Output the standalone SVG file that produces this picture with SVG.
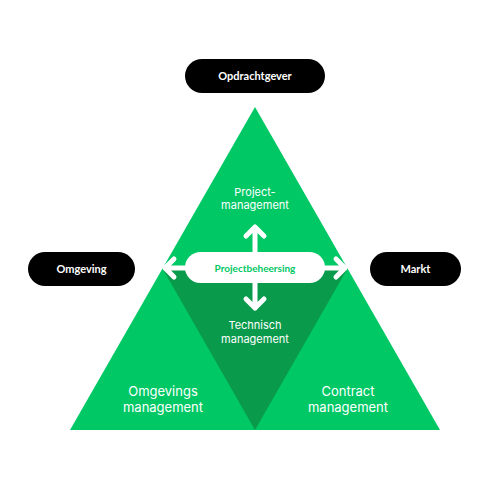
<svg xmlns="http://www.w3.org/2000/svg" width="490" height="490" viewBox="0 0 490 490">
<style>
.light{fill:#00C865}
.dark{fill:#0A9A4C}
.blk{fill:#000}
.wt{fill:#fff;font-family:Lato,"Liberation Sans",sans-serif;font-weight:700;font-size:11px;text-anchor:middle}
.lbl{fill:#fff;font-family:Inter,"Noto Sans",sans-serif;font-size:11px;text-anchor:middle}
.lbl2{fill:#fff;font-family:Inter,"Noto Sans",sans-serif;font-size:13px;text-anchor:middle}
.arr{stroke:#fff;stroke-width:5;fill:none;stroke-linecap:round;stroke-linejoin:round}
</style>
<rect width="490" height="490" fill="#fff"/>
<g id="triangle">
<polygon class="light" points="255,107 70,430 440,430"/>
<polygon class="dark" points="162.5,268.5 347.5,268.5 255,430"/>
</g>
<g id="connectors">
<path class="arr" d="M255,252 V227 M246,236 L255,227 L264,236"/>
<path class="arr" d="M255,283 V308 M246,299 L255,308 L264,299"/>
<path class="arr" d="M185,268 H165 M174,259 L165,268 L174,277"/>
<path class="arr" d="M325,268 H345 M336,259 L345,268 L336,277"/>
</g>
<g id="opdrachtgever">
<rect class="blk" x="185" y="59" width="140" height="34" rx="17"/>
<text class="wt" x="255" y="80">Opdrachtgever</text>
</g>
<g id="omgeving">
<rect class="blk" x="28" y="252" width="107" height="34" rx="17"/>
<text class="wt" x="81.5" y="273">Omgeving</text>
</g>
<g id="markt">
<rect class="blk" x="370" y="252" width="91" height="34" rx="17"/>
<text class="wt" x="415.5" y="273">Markt</text>
</g>
<g id="projectbeheersing">
<rect fill="#fff" x="185" y="252" width="140" height="31" rx="15.5"/>
<text x="255" y="271.5" style="fill:#00C865;font-family:Lato,'Liberation Sans',sans-serif;font-weight:700;font-size:10px;text-anchor:middle">Projectbeheersing</text>
</g>
<g id="projectmanagement">
<text class="lbl" x="255" y="196">Project-</text>
<text class="lbl" x="255" y="209">management</text>
</g>
<g id="technischmanagement">
<text class="lbl" x="255" y="329">Technisch</text>
<text class="lbl" x="255" y="343">management</text>
</g>
<g id="omgevingsmanagement">
<text class="lbl2" x="163" y="396">Omgevings</text>
<text class="lbl2" x="163" y="412">management</text>
</g>
<g id="contractmanagement">
<text class="lbl2" x="348" y="396">Contract</text>
<text class="lbl2" x="348" y="412">management</text>
</g>
</svg>
